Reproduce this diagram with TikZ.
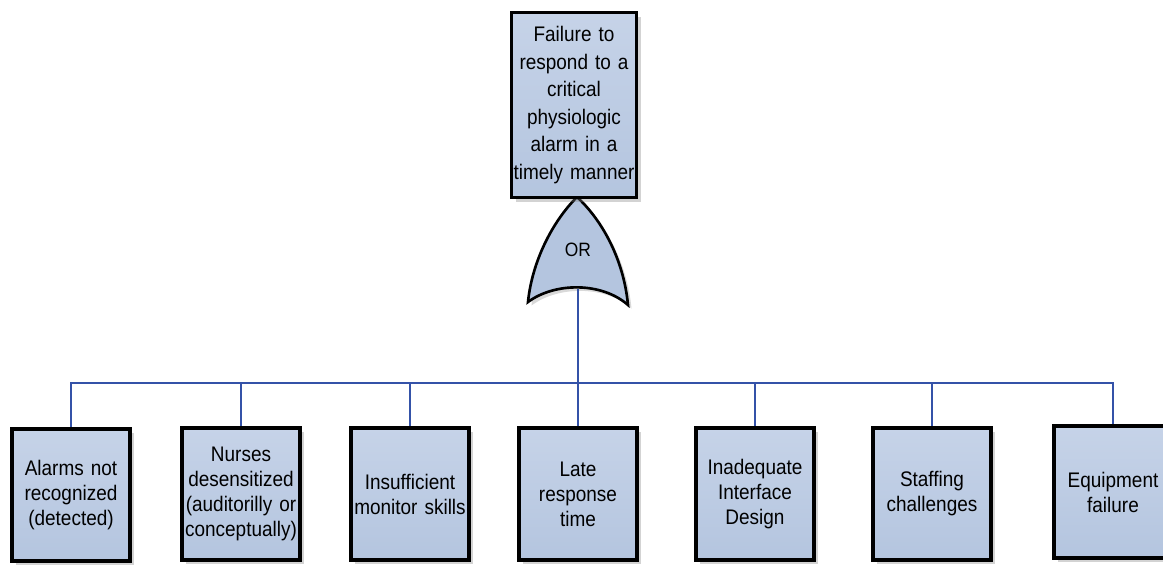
\documentclass[tikz,border=0pt]{standalone}
\usepackage{fontspec}
\setmainfont{Liberation Sans}[FakeStretch=0.9]
\usetikzlibrary{shadows}
\definecolor{azzurro}{HTML}{B4C5DF}
\definecolor{azzurrochiaro}{HTML}{C6D3E8}
\definecolor{blulinea}{HTML}{3452A8}
\begin{document}
\begin{tikzpicture}[x=0.02cm,y=-0.02cm,
    evento/.style={draw=black, line width=1.8pt, top color=azzurrochiaro, bottom color=azzurro,
        minimum width=2.36cm, minimum height=2.64cm, text width=2.3cm, inner sep=0pt,
        align=center, font=\fontsize{12}{14.2}\selectfont,
        drop shadow={shadow xshift=2.5pt, shadow yshift=-2.5pt, opacity=0.35}},
    ramo/.style={draw=blulinea, line width=1.2pt}]
        \useasboundingbox (0,0) rectangle (1163,569);

        % Disegna la porta OR
        \filldraw[fill=azzurro, line width=1.5pt, drop shadow={shadow xshift=2pt, shadow yshift=-2pt, opacity=0.3}]
        (577,197) .. controls (552,222) and (532,262) .. (528,302)
        .. controls (555,282) and (602,282) .. (628,305)
        .. controls (624,262) and (604,222) .. (577,197) -- cycle;
        \node (or) at (578,250) {\fontsize{11}{12}\selectfont OR}; % Etichetta porta
        \coordinate (uscita) at (578,289);

        % Evento principale
        \node[evento, minimum width=2.5cm, minimum height=3.7cm, text width=2.48cm,
            font=\fontsize{12}{15.7}\selectfont] (top) at (574,105)
            {Failure to\\respond to a\\critical\\physiologic\\alarm in a\\timely manner};

        % Cause
        \node[evento] (allarmi) at (71,495) {Alarms not\\recognized\\(detected)};
        \node[evento] (infermieri) at (241,494) {Nurses\\desensitized\\(auditorilly or\\conceptually)};
        \node[evento] (abilita) at (410,494) {Insufficient\\monitor skills};
        \node[evento] (risposta) at (578,494) {Late\\response\\time};
        \node[evento] (interfaccia) at (755,494) {Inadequate\\Interface\\Design};
        \node[evento] (personale) at (932,494) {Staffing\\challenges};
        \node[evento] (guasto) at (1113,492) {Equipment\\failure};

        % Disegna i rami
        \coordinate (bus) at (578,383);
        \draw[ramo] (uscita) -- (bus);
        \foreach \c in {allarmi,infermieri,abilita,risposta,interfaccia,personale,guasto}
            \draw[ramo] (bus) -| (\c.north);

    \end{tikzpicture}
\end{document}
